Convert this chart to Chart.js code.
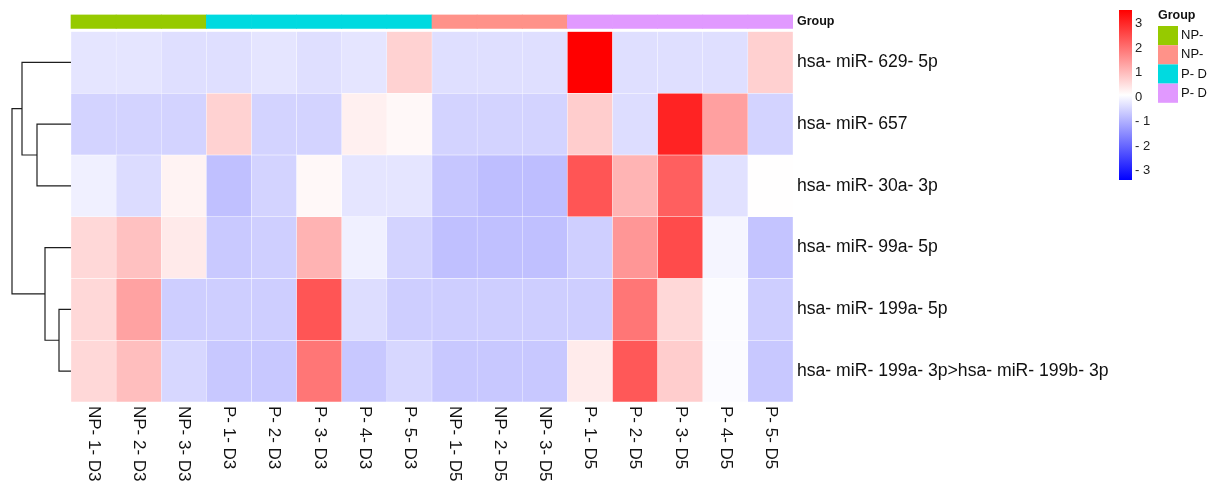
<!DOCTYPE html>
<html>
<head>
<meta charset="utf-8">
<script src="https://cdn.jsdelivr.net/npm/chart.js@4.4.1/dist/chart.umd.min.js"></script>
<style>
  html, body { margin: 0; padding: 0; background: #ffffff; }
  #wrap { width: 1207px; height: 487px; position: relative; overflow: hidden; }
  canvas { display: block; }
</style>
</head>
<body>
<div id="wrap"><canvas id="c" width="1207" height="487"></canvas></div>
<script>
// ---------------- DATA ----------------
const colLabels = ['NP- 1- D3','NP- 2- D3','NP- 3- D3','P- 1- D3','P- 2- D3','P- 3- D3','P- 4- D3','P- 5- D3',
                   'NP- 1- D5','NP- 2- D5','NP- 3- D5','P- 1- D5','P- 2- D5','P- 3- D5','P- 4- D5','P- 5- D5'];
const colGroups = ['NP- D3','NP- D3','NP- D3','P- D3','P- D3','P- D3','P- D3','P- D3',
                   'NP- D5','NP- D5','NP- D5','P- D5','P- D5','P- D5','P- D5','P- D5'];
const groupLevels = ['NP- D3','NP- D5','P- D3','P- D5'];
const rowLabels = ['hsa- miR- 629- 5p','hsa- miR- 657','hsa- miR- 30a- 3p','hsa- miR- 99a- 5p',
                   'hsa- miR- 199a- 5p','hsa- miR- 199a- 3p>hsa- miR- 199b- 3p'];

const miR629_5p = [-0.28,-0.28,-0.35,-0.35,-0.27,-0.35,-0.28, 0.69,-0.35,-0.35,-0.35, 3.55,-0.35,-0.35,-0.35, 0.72];
const miR657    = [-0.52,-0.52,-0.52, 0.69,-0.52,-0.52, 0.28, 0.18,-0.52,-0.52,-0.52, 0.76,-0.38, 3.07, 1.37,-0.52];
const miR30a_3p = [-0.13,-0.40, 0.25,-0.78,-0.52, 0.17,-0.27,-0.27,-0.70,-0.81,-0.81, 2.39, 1.10, 2.26,-0.33, 0.10];
const miR99a_5p = [ 0.61, 0.93, 0.36,-0.66,-0.57, 1.12,-0.13,-0.52,-0.78,-0.78,-0.78,-0.57, 1.51, 2.53,-0.05,-0.72];
const miR199a_5p= [ 0.61, 1.34,-0.59,-0.59,-0.59, 2.39,-0.38,-0.59,-0.59,-0.59,-0.59,-0.59, 1.94, 0.61, 0.03,-0.59];
const miR199a_3p= [ 0.61, 0.96,-0.46,-0.67,-0.67, 1.94,-0.67,-0.46,-0.67,-0.67,-0.67, 0.35, 2.35, 0.76, 0.03,-0.67];
const rowValues = [miR629_5p, miR657, miR30a_3p, miR99a_5p, miR199a_5p, miR199a_3p];

const colorTicks = [3, 2, 1, 0, -1, -2, -3];
const colorTickLabels = ['3','2','1','0','- 1','- 2','- 3'];
const colorMin = -3.39, colorMax = 3.55;

// row dendrogram merges (r = leaf row, m = earlier merge, 1-based)
const mergeLeft   = ['r4','r3','r1','r0','m4'];
const mergeRight  = ['r5','m1','r2','m3','m2'];
const mergeHeight = [1.2, 2.6, 3.4, 4.9, 5.9];

// ---------------- STYLE / LAYOUT ----------------
const groupColors = {'NP- D3':'#96CA00','NP- D5':'#FF9289','P- D3':'#00DAE0','P- D5':'#E199FF'};
const FONT = "'Liberation Sans', Arial, sans-serif";
const W = 1207, PAD_L = 2, PAD_R = 0, PAD_T = 12, PAD_B = 85;
const HEAT_L = 71, HEAT_R = 793;
const colW = (HEAT_R - HEAT_L) / colLabels.length;
const DENDRO_PX = 10;
const ANNOT_LO = -0.774, ANNOT_HI = -0.548;
const ANNOT_MID = (ANNOT_LO + ANNOT_HI) / 2;
const CB = { x: 1119, w: 13, top: 10, bot: 180 };

function valueColor(v) {
  const mid = (colorMin + colorMax) / 2;
  let r, g, b;
  if (v >= mid) {
    const f = Math.min(1, (v - mid) / (colorMax - mid));
    r = 255; g = Math.round(255 * (1 - f)); b = g;
  } else {
    const f = Math.min(1, (mid - v) / (mid - colorMin));
    b = 255; r = Math.round(255 * (1 - f)); g = r;
  }
  return `rgb(${r},${g},${b})`;
}

// ---------------- DATASETS ----------------
const heatDatasets = rowValues.map((vals, r) => ({
  type: 'bar', label: rowLabels[r], xAxisID: 'x', yAxisID: 'y',
  data: vals.map((v, c) => ({ x: c, y: [r - 0.5, r + 0.5] })),
  backgroundColor: vals.map(valueColor),
  borderColor: 'rgba(255,255,255,0.2)', borderWidth: 0.5, borderSkipped: false,
  grouped: false, barPercentage: 1, categoryPercentage: 1
}));

const annotDataset = {
  type: 'bar', label: 'Group', xAxisID: 'x', yAxisID: 'y',
  data: colGroups.map((g, c) => ({ x: c, y: [ANNOT_LO, ANNOT_HI] })),
  backgroundColor: colGroups.map(g => groupColors[g]),
  borderWidth: 0, grouped: false, barPercentage: 1, categoryPercentage: 1
};

const nodes = {};
function nodePos(id) {
  if (id[0] === 'r') return { y: parseInt(id.slice(1), 10), h: 0 };
  return nodes[id];
}
const dendroDatasets = mergeHeight.map((h, k) => {
  const a = nodePos(mergeLeft[k]), b = nodePos(mergeRight[k]);
  nodes['m' + (k + 1)] = { y: (a.y + b.y) / 2, h: h };
  return {
    type: 'line', label: 'm' + (k + 1), xAxisID: 'xd', yAxisID: 'y',
    data: [{ x: -a.h, y: a.y }, { x: -h, y: a.y }, { x: -h, y: b.y }, { x: -b.h, y: b.y }],
    borderColor: '#1e1e1e', borderWidth: 1.2, pointRadius: 0, tension: 0, fill: false,
    clip: false
  };
});

// ---------------- PLUGIN: column labels + legends ----------------
const extras = {
  id: 'extras',
  afterDraw(chart) {
    const ctx = chart.ctx;
    const xs = chart.scales.x;
    const area = chart.chartArea;
    // column labels, rotated to read top-to-bottom
    ctx.save();
    ctx.fillStyle = '#111';
    ctx.font = `17px ${FONT}`;
    ctx.textAlign = 'left';
    ctx.textBaseline = 'middle';
    colLabels.forEach((lab, i) => {
      const px = xs.getPixelForValue(i);
      ctx.save();
      ctx.translate(px, area.bottom + 4);
      ctx.rotate(Math.PI / 2);
      ctx.fillText(lab, 0, 0);
      ctx.restore();
    });
    ctx.restore();

    // colour bar
    ctx.save();
    const grad = ctx.createLinearGradient(0, CB.bot, 0, CB.top);
    grad.addColorStop(0, 'rgb(0,0,255)');
    grad.addColorStop(0.5, 'rgb(255,255,255)');
    grad.addColorStop(1, 'rgb(255,0,0)');
    ctx.fillStyle = grad;
    ctx.fillRect(CB.x, CB.top, CB.w, CB.bot - CB.top);
    ctx.fillStyle = '#222';
    ctx.font = `13px ${FONT}`;
    ctx.textAlign = 'left';
    ctx.textBaseline = 'middle';
    colorTicks.forEach((v, i) => {
      const y = CB.bot - (v - colorMin) / (colorMax - colorMin) * (CB.bot - CB.top);
      ctx.fillText(colorTickLabels[i], CB.x + CB.w + 3, y);
    });
    ctx.restore();

    // group legend
    ctx.save();
    ctx.fillStyle = '#111';
    ctx.font = `bold 12.5px ${FONT}`;
    ctx.textAlign = 'left';
    ctx.textBaseline = 'middle';
    ctx.fillText('Group', 1158, 16);
    ctx.font = `13px ${FONT}`;
    groupLevels.forEach((g, i) => {
      const y0 = 26 + i * 19.2;
      ctx.fillStyle = groupColors[g];
      ctx.fillRect(1158, y0, 20, 19.2);
      ctx.fillStyle = '#111';
      ctx.fillText(g, 1181, y0 + 9.6);
    });
    ctx.restore();
  }
};

// ---------------- CHART ----------------
new Chart(document.getElementById('c'), {
  type: 'bar',
  data: { datasets: [annotDataset, ...heatDatasets, ...dendroDatasets] },
  options: {
    responsive: false,
    animation: false,
    devicePixelRatio: 1,
    layout: { padding: { left: PAD_L, right: PAD_R, top: PAD_T, bottom: PAD_B } },
    plugins: { legend: { display: false }, tooltip: { enabled: false } },
    scales: {
      x: {
        type: 'linear', display: false, offset: false,
        min: -0.5 - (HEAT_L - PAD_L) / colW, max: colLabels.length - 0.5
      },
      xd: {
        type: 'linear', display: false, offset: false,
        min: -(HEAT_L - PAD_L) / DENDRO_PX, max: (HEAT_R - HEAT_L) / DENDRO_PX
      },
      y: {
        type: 'linear', position: 'right', reverse: true,
        min: ANNOT_LO, max: rowLabels.length - 0.5,
        grid: { display: false, drawTicks: false },
        border: { display: false },
        afterBuildTicks: (s) => {
          s.ticks = [{ value: ANNOT_MID }].concat(rowLabels.map((_, i) => ({ value: i })));
        },
        afterFit: (s) => { s.width = W - HEAT_R - PAD_R; },
        ticks: {
          autoSkip: false, padding: 4, color: '#111',
          font: (ctx) => (ctx.tick && ctx.tick.value < -0.5)
            ? { family: FONT, size: 12.5, weight: 'bold' }
            : { family: FONT, size: 17.6 },
          callback: (v) => v < -0.5 ? 'Group' : rowLabels[Math.round(v)]
        }
      }
    }
  },
  plugins: [extras]
});
</script>
</body>
</html>
